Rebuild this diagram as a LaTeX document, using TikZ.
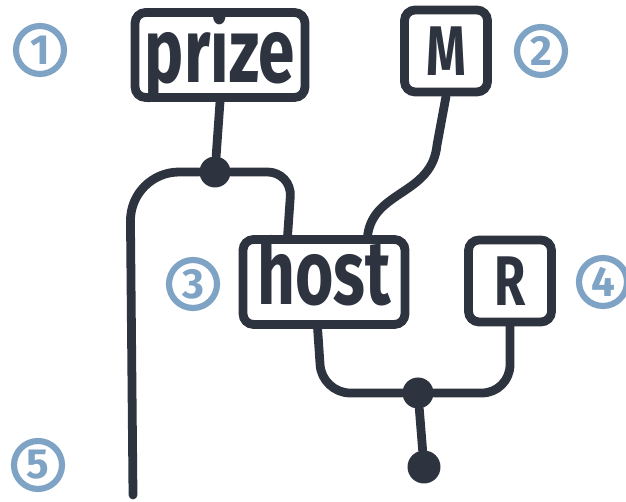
\documentclass[tikz,border=0pt]{standalone}
\usepackage{fontspec}
\newfontfamily\handfont[FakeStretch=0.72]{Fira Sans}
\newfontfamily\tagfont{Fira Sans}
\usepackage{tikz}
\usetikzlibrary{calc}
\definecolor{ink}{HTML}{2D333F}
\definecolor{tagblue}{HTML}{7FA3C4}

\begin{document}
\begin{tikzpicture}[
    x=0.02cm, y=-0.02cm,
    word/.style={rectangle, draw=ink, line width=5pt, rounded corners=6pt, text=ink, inner sep=0pt,
        font=\handfont\bfseries\fontsize{52}{52}\selectfont},
    letter/.style={rectangle, draw=ink, line width=5pt, rounded corners=6pt, text=ink, inner sep=0pt,
        minimum width=1.66cm, minimum height=1.64cm, font=\handfont\bfseries\fontsize{40}{40}\selectfont},
    wire/.style={draw=ink, line width=5pt, line cap=round},
    dot/.style={circle, fill=ink, minimum size=0.62cm, inner sep=0pt},
    num/.style={circle, draw=tagblue, line width=3.5pt, text=tagblue, minimum size=0.96cm, inner sep=0pt,
        font=\tagfont\bfseries\fontsize{24}{24}\selectfont}
]
\useasboundingbox (0,0) rectangle (626,502);

% Boxes
\node[word, minimum width=3.4cm, text height=1.4cm, text depth=0.3cm] (prize) at (220,55) {prize};
\node[letter] (M) at (446,51) {M};
\node[word, minimum width=3.24cm, text height=1.3cm, text depth=0.4cm] (host) at (324,282) {host};
\node[letter] (R) at (510,281) {R};

% Dots
\node[dot] (copy) at (215,172) {};
\node[dot] (merge) at (418,393) {};
\node[dot, minimum size=0.66cm] (del) at (424,467) {};
\coordinate (out) at (133,495);

% Step numbers
\node[num] (n1) at (40,50) {1};
\node[num] (n2) at (541,51) {2};
\node[num] (n3) at (193,284) {3};
\node[num] (n4) at (603,282) {4};
\node[num] (n5) at (38,465) {5};

% Wires
\draw[wire] (prize.south) -- (copy);
\draw[wire, rounded corners=28pt] (copy) -- (130,172) -- (out);
\draw[wire, rounded corners=14pt] (copy) -- (292,172) -- ($(host.north west)+(49,0)$);
\draw[wire] (M.south) -- (437,145) .. controls (432,195) and (374,190) .. ($(host.north west)+(129,0)$);
\draw[wire, rounded corners=16pt] ($(host.south west)+(79,0)$) -- (322,393) -- (merge);
\draw[wire, rounded corners=16pt] (R.south) -- (R.south |- merge) -- (merge);
\draw[wire] (merge) -- (del);

\end{tikzpicture}
\end{document}
